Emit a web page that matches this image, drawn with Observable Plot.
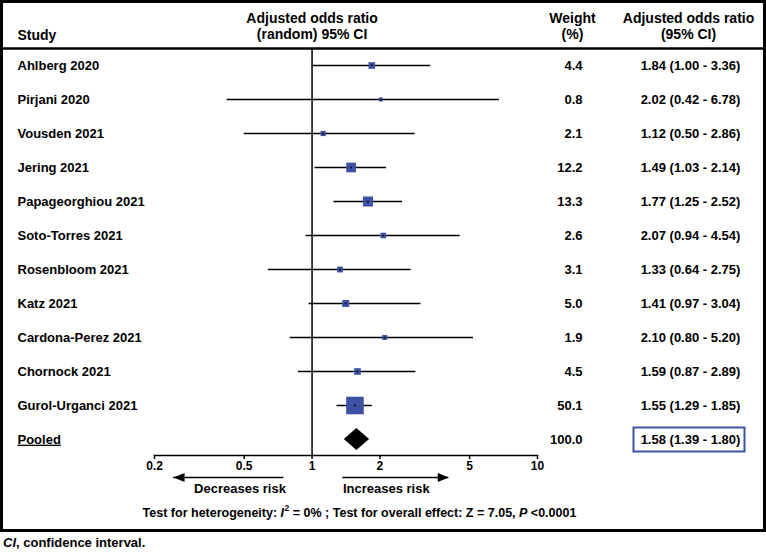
<!DOCTYPE html>
<html><head><meta charset="utf-8">
<script src="https://cdn.jsdelivr.net/npm/d3@7"></script>
<script src="https://cdn.jsdelivr.net/npm/@observablehq/plot@0.6"></script>
<style>
body{margin:0;background:#fff;font-family:"Liberation Sans",Arial,sans-serif;}
#wrap{position:relative;width:766px;height:532px;}
#border{position:absolute;left:0;top:0;width:766px;height:532px;border:3px solid #000;box-sizing:border-box;pointer-events:none;}
#caption{font-size:13px;font-weight:bold;padding:3px 0 0 3px;color:#000;}
</style></head><body>
<div id="wrap"><div id="border"></div></div>
<div id="caption"><i>CI</i>, confidence interval.</div>
<script>
// ---- data ----
const studies = ["Ahlberg 2020","Pirjani 2020","Vousden 2021","Jering 2021","Papageorghiou 2021","Soto-Torres 2021","Rosenbloom 2021","Katz 2021","Cardona-Perez 2021","Chornock 2021","Gurol-Urganci 2021"];
const orValues = [1.84, 2.02, 1.12, 1.49, 1.77, 2.07, 1.33, 1.41, 2.10, 1.59, 1.55];
const ciLow    = [1.00, 0.42, 0.50, 1.03, 1.25, 0.94, 0.64, 0.97, 0.80, 0.87, 1.29];
const ciHigh   = [3.36, 6.78, 2.86, 2.14, 2.52, 4.54, 2.75, 3.04, 5.20, 2.89, 1.85];
const weights  = [4.4, 0.8, 2.1, 12.2, 13.3, 2.6, 3.1, 5.0, 1.9, 4.5, 50.1];
const pooledLabel = "Pooled";
const pooledOR = 1.58, pooledLow = 1.39, pooledHigh = 1.80, pooledWeight = 100.0;
const tickValues = [0.2, 0.5, 1, 2, 5, 10];
const headerStudy = "Study";
const headerPlot = "Adjusted odds ratio\n(random) 95% CI";
const headerWeight = "Weight\n(%)";
const headerOR = "Adjusted odds ratio\n(95% CI)";
const arrowLabels = ["Decreases risk", "Increases risk"];
const arrowFrom = [0.75, 1.37];
const arrowTo = [0.243, 4.04];

// ---- tables ----
const rows = studies.map((s, i) => ({study: s, or: orValues[i], lo: ciLow[i], hi: ciHigh[i], weight: weights[i]}));
const pooled = {study: pooledLabel, or: pooledOR, lo: pooledLow, hi: pooledHigh, weight: pooledWeight};
const allRows = [...rows, pooled];
const fmt = d => `${d.or.toFixed(2)} (${d.lo.toFixed(2)} - ${d.hi.toFixed(2)})`;
const arrows = arrowLabels.map((t, i) => ({label: t, from: arrowFrom[i], to: arrowTo[i], row: pooledLabel}));

const BLUE = "#3f51a3";
const FONT = "Liberation Sans, Arial, sans-serif";

const boxSymbol = {draw(c) { c.rect(-55.5, -12, 111, 24); }};
const headLeft = {draw(c) { c.moveTo(0, 0); c.lineTo(11, -4.5); c.lineTo(11, 4.5); c.closePath(); }};
const headRight = {draw(c) { c.moveTo(0, 0); c.lineTo(-11, -4.5); c.lineTo(-11, 4.5); c.closePath(); }};

const chart = Plot.plot({
  width: 766,
  height: 532,
  marginLeft: 154,
  marginRight: 229,
  marginTop: 48,
  marginBottom: 77,
  style: {fontFamily: FONT, fontWeight: "bold", fontSize: "13px", color: "#000", background: "transparent"},
  x: {type: "log", domain: [0.2, 10], axis: null},
  y: {type: "point", domain: allRows.map(d => d.study), range: [65, 439], padding: 0, axis: null},
  r: {type: "sqrt", domain: [0, 50.1], range: [1.13, 9.93]},
  marks: [
    // header separator
    Plot.frame({anchor: "top", insetLeft: -154, insetRight: -229, strokeWidth: 2.5}),
    // axis line
    Plot.frame({anchor: "bottom", strokeWidth: 1.5}),
    Plot.axisX({ticks: tickValues, tickFormat: d => String(d), tickSize: 4, tickPadding: 2, fontSize: 12, fontWeight: "bold", label: null, strokeWidth: 1.5}),
    // no-effect line
    Plot.ruleX([1], {strokeWidth: 1.5}),
    // CI lines
    Plot.ruleY(rows, {y: "study", x1: "lo", x2: "hi", strokeWidth: 1.5}),
    // weighted squares
    Plot.dot(rows, {x: "or", y: "study", r: "weight", symbol: "square", fill: BLUE}),
    Plot.dot(rows, {x: "or", y: "study", r: 1.1, fill: "#111"}),
    // pooled diamond
    Plot.dot([pooled], {x: "or", y: "study", render: (index, scales) => {
      const x1 = scales.x(pooled.lo), x2 = scales.x(pooled.hi), xc = scales.x(pooled.or), y = scales.y(pooled.study);
      const p = document.createElementNS("http://www.w3.org/2000/svg", "path");
      p.setAttribute("d", `M${x1},${y}L${xc},${y - 11}L${x2},${y}L${xc},${y + 11}Z`);
      p.setAttribute("fill", "#000");
      return p;
    }}),
    // headers
    Plot.text([headerStudy], {frameAnchor: "top-left", dx: -137, dy: -13, textAnchor: "start", lineAnchor: "middle", fontSize: 14}),
    Plot.text([{x: 1, t: headerPlot}], {x: "x", text: "t", frameAnchor: "top", dy: -23, textAnchor: "middle", lineAnchor: "middle", lineHeight: 1.15, fontSize: 14}),
    Plot.text([headerWeight], {frameAnchor: "top-right", dx: 35, dy: -23, textAnchor: "middle", lineAnchor: "middle", lineHeight: 1.15, fontSize: 14}),
    Plot.text([headerOR], {frameAnchor: "top-right", dx: 151, dy: -23, textAnchor: "middle", lineAnchor: "middle", lineHeight: 1.15, fontSize: 14}),
    // study labels
    Plot.text(rows, {y: "study", text: "study", frameAnchor: "left", dx: -137, textAnchor: "start", fontSize: 13}),
    Plot.text([pooled], {y: "study", text: "study", frameAnchor: "left", dx: -137, textAnchor: "start", fontSize: 13,
      render: (i, s, v, d, c, next) => { const g = next(i, s, v, d, c); g.querySelectorAll("text").forEach(t => t.style.textDecoration = "underline"); return g; }}),
    // weights
    Plot.text(allRows, {y: "study", text: d => d.weight.toFixed(1), frameAnchor: "right", dx: 45, textAnchor: "end", fontSize: 13}),
    // OR text
    Plot.text(allRows, {y: "study", text: fmt, frameAnchor: "right", dx: 153, textAnchor: "middle", fontSize: 13}),
    Plot.dot([pooled], {y: "study", frameAnchor: "right", dx: 151.5, symbol: boxSymbol, stroke: BLUE, strokeWidth: 2, fill: "none"}),
    // arrows
    Plot.ruleY(arrows, {y: "row", x1: "from", x2: "to", dy: 38, strokeWidth: 1.5}),
    Plot.dot([arrows[0]], {x: "to", y: "row", dy: 38, symbol: headLeft, fill: "#000", stroke: "none"}),
    Plot.dot([arrows[1]], {x: "to", y: "row", dy: 38, symbol: headRight, fill: "#000", stroke: "none"}),
    Plot.text([arrows[0]], {x: "from", y: "row", text: "label", dy: 49, dx: 2, textAnchor: "end", fontSize: 13}),
    Plot.text([arrows[1]], {x: "from", y: "row", text: "label", dy: 49, textAnchor: "start", fontSize: 13}),
    // test line
    Plot.text(["Test for heterogeneity"], {frameAnchor: "bottom-left", dx: 205, dy: 61, textAnchor: "middle", fontSize: 12.5,
      render: (i, s, v, d, c, next) => {
        const g = next(i, s, v, d, c);
        const t = g.querySelector("text");
        t.textContent = "";
        const NS = "http://www.w3.org/2000/svg";
        const add = (txt, attrs = {}) => { const ts = document.createElementNS(NS, "tspan"); ts.textContent = txt; for (const k in attrs) ts.setAttribute(k, attrs[k]); t.appendChild(ts); };
        add("Test for heterogeneity: ");
        add("I", {"font-style": "italic"});
        add("2", {"font-size": 8.5, dy: -6, dx: 0.5});
        add(" = 0% ; Test for overall effect: Z = 7.05, ", {dy: 6});
        add("P", {"font-style": "italic"});
        add(" <0.0001");
        return g;
      }})
  ]
});
document.getElementById("wrap").appendChild(chart);
</script>
</body></html>
